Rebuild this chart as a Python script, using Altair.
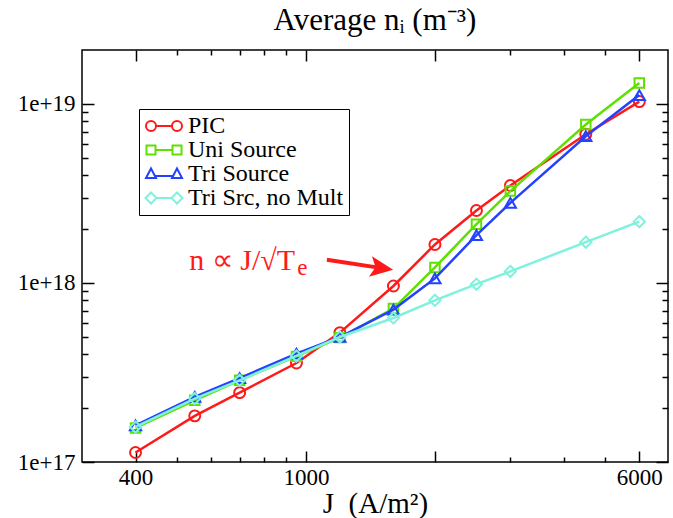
import altair as alt
import pandas as pd

# ---- data -------------------------------------------------------------
J = [400, 550, 700, 950, 1200, 1600, 2000, 2500, 3000, 4500, 6000]
pic = [1.13e17, 1.81e17, 2.44e17, 3.57e17, 5.28e17, 9.62e17,
       1.64e18, 2.54e18, 3.50e18, 6.77e18, 1.03e19]
uni_source = [1.55e17, 2.21e17, 2.86e17, 3.89e17, 4.95e17, 7.19e17,
              1.22e18, 2.13e18, 3.26e18, 7.67e18, 1.31e19]
tri_source = [1.60e17, 2.31e17, 2.94e17, 4.03e17, 4.99e17, 7.10e17,
              1.06e18, 1.85e18, 2.80e18, 6.60e18, 1.12e19]
tri_no_mult = [1.57e17, 2.26e17, 2.86e17, 3.91e17, 4.99e17, 6.37e17,
               8.00e17, 9.84e17, 1.16e18, 1.69e18, 2.20e18]

series_names = ["PIC", "Uni Source", "Tri Source", "Tri Src, no Mult"]
series_values = [pic, uni_source, tri_source, tri_no_mult]
series_colors = ["#ff1a1a", "#5ee000", "#2342ff", "#7ef2dc"]

x_label_ticks = [400, 1000, 6000]
x_major_ticks = [400, 1000, 2000, 6000]
x_minor_ticks = [500, 600, 700, 800, 900, 3000, 4000, 5000]
y_label_ticks = [1e17, 1e18, 1e19]
y_minor_ticks = [k * 1e17 for k in range(2, 10)] + [k * 1e18 for k in range(2, 10)]

# annotation: text anchor and arrow (tail -> head centre) in data units
note_main = "n \u221d J/\u221aT"
note_sub = "e"
note_pos = {"J": [534], "n": [1.18e18]}
arrow_pos = {"J": [1119], "n": [1.346e18], "J2": [1503], "n2": [1.21e18]}

# ---- styling -----------------------------------------------------------
SERIF = "Liberation Serif"
RED = "#ff1a1a"
W, H = 586, 412

rows = []
for name, vals in zip(series_names, series_values):
    for j, v in zip(J, vals):
        rows.append({"J": j, "n": v, "series": name})
df = pd.DataFrame(rows)

x_scale = alt.Scale(type="log", domain=[300, 7000], nice=False)
y_scale = alt.Scale(type="log", domain=[1e17, 2e19], nice=False)


def tick_axis(orient, offset, values, size):
    return alt.Axis(orient=orient, offset=offset, values=values, tickSize=size,
                    tickWidth=1.5, tickColor="black", labels=False, domain=False,
                    grid=False, title=None)


x_label_axis = alt.Axis(values=x_label_ticks, format="d", ticks=False, domain=False,
                        grid=False, labelFont=SERIF, labelFontSize=23, labelColor="black",
                        labelPadding=4, labelFlush=False, labelOverlap=False,
                        title="J\u00a0\u00a0(A/m\u00b2)", titleFont=SERIF, titleFontSize=29,
                        titleFontWeight="normal", titleColor="black", titlePadding=0)
y_label_axis = alt.Axis(values=y_label_ticks, ticks=False, domain=False, grid=False,
                        labelExpr="'1e+' + round(log(datum.value) / LN10)",
                        labelFont=SERIF, labelFontSize=23, labelColor="black",
                        labelPadding=7, labelFlush=False, labelOverlap=False, title=None)

# inward-pointing ticks on all four sides (major and minor)
axis_sets = [
    (x_label_axis, y_label_axis),
    (tick_axis("top", -H, x_major_ticks, 11), tick_axis("right", -W, y_label_ticks, 12)),
    (tick_axis("top", -H, x_minor_ticks, 5), tick_axis("right", -W, y_minor_ticks, 6)),
    (tick_axis("bottom", -H, x_major_ticks, 11), tick_axis("left", -W, y_label_ticks, 12)),
    (tick_axis("bottom", -H, x_minor_ticks, 5), tick_axis("left", -W, y_minor_ticks, 6)),
]

point_shapes = ["circle", "square", "triangle-up", "M0,-1L1,0L0,1L-1,0Z"]
point_sizes = [120, 90, 125, 125]

base = alt.Chart(df)
layers = []
for name, col, shp, sz in zip(series_names, series_colors, point_shapes, point_sizes):
    sub = base.transform_filter(alt.datum.series == name)
    layers.append(sub.mark_line(color=col, strokeWidth=2.5))
    layers.append(sub.mark_point(shape=shp, size=sz, filled=False, color=col,
                                 strokeWidth=2, opacity=1))

encoded = []
for i, layer in enumerate(layers):
    if i < len(axis_sets):
        ax_x, ax_y = axis_sets[i]
    else:
        ax_x, ax_y = None, None
    encoded.append(layer.encode(
        x=alt.X("J:Q", scale=x_scale, axis=ax_x),
        y=alt.Y("n:Q", scale=y_scale, axis=ax_y),
    ))

# legend symbols: marker - line - marker
legend_paths = [
    "M-1.8,0A0.5,0.5,0,1,1,-0.8,0A0.5,0.5,0,1,1,-1.8,0Z M-0.8,0L0.8,0 "
    "M0.8,0A0.5,0.5,0,1,1,1.8,0A0.5,0.5,0,1,1,0.8,0Z",
    "M-1.75,-0.45L-0.85,-0.45L-0.85,0.45L-1.75,0.45Z M-0.85,0L0.85,0 "
    "M0.85,-0.45L1.75,-0.45L1.75,0.45L0.85,0.45Z",
    "M-1.3,-0.55L-0.8,0.4L-1.8,0.4Z M-0.9,0.2L0.9,0.2 "
    "M1.3,-0.55L1.8,0.4L0.8,0.4Z",
    "M-1.3,-0.55L-0.75,0L-1.3,0.55L-1.85,0Z M-0.75,0L0.75,0 "
    "M1.3,-0.55L1.85,0L1.3,0.55L0.75,0Z",
]
legend_def = alt.Legend(title=None, orient="none", legendX=57, legendY=59,
                        strokeColor="black", fillColor="white", padding=5,
                        labelFont=SERIF, labelFontSize=24, labelColor="black",
                        labelLimit=400, symbolSize=400, symbolStrokeWidth=2,
                        symbolOffset=8, labelOffset=12, rowPadding=-1)
legend_layer = base.transform_filter("false").mark_point(
    filled=False, strokeWidth=2, opacity=1
).encode(
    x=alt.X("J:Q", scale=x_scale, axis=None),
    y=alt.Y("n:Q", scale=y_scale, axis=None),
    color=alt.Color("series:N", scale=alt.Scale(domain=series_names, range=series_colors),
                    legend=legend_def),
    shape=alt.Shape("series:N", scale=alt.Scale(domain=series_names, range=legend_paths),
                    legend=legend_def),
)

note_df = pd.DataFrame(note_pos)
note_enc = dict(
    x=alt.X("J:Q", scale=x_scale, axis=None),
    y=alt.Y("n:Q", scale=y_scale, axis=None),
)
note = alt.Chart(note_df).mark_text(
    text=note_main, font=SERIF, fontSize=30, color=RED, align="left",
    baseline="alphabetic"
).encode(**note_enc)
note_subscript = alt.Chart(note_df).mark_text(
    text=note_sub, font=SERIF, fontSize=23, color=RED, align="left",
    baseline="alphabetic", dx=108, dy=5
).encode(**note_enc)

arrow_df = pd.DataFrame(arrow_pos)
arrow_line = alt.Chart(arrow_df).mark_rule(color=RED, strokeWidth=4).encode(
    x=alt.X("J:Q", scale=x_scale, axis=None),
    y=alt.Y("n:Q", scale=y_scale, axis=None),
    x2="J2:Q", y2="n2:Q",
)
arrow_head = alt.Chart(arrow_df).mark_point(
    shape="M-1,-0.9L1,0L-1,0.9L-0.55,0Z", size=529, filled=True,
    color=RED, opacity=1, angle=8.5
).encode(
    x=alt.X("J2:Q", scale=x_scale, axis=None),
    y=alt.Y("n2:Q", scale=y_scale, axis=None),
)

chart = alt.layer(
    *encoded, legend_layer, note, note_subscript, arrow_line, arrow_head
).resolve_axis(
    x="independent", y="independent"
).properties(
    width=W, height=H,
    title=alt.TitleParams("Average n\u1d62 (m\u207b\u00b3)", font=SERIF, fontSize=31,
                          fontWeight="normal", color="black", anchor="middle",
                          baseline="alphabetic", offset=-12),
    autosize=alt.AutoSizeParams(type="none"),
    padding={"left": 82, "top": 50, "right": 5, "bottom": 56},
).configure_view(stroke="black", strokeWidth=1.5)

chart.save("out.html", embed_options={"renderer": "svg", "actions": False})
